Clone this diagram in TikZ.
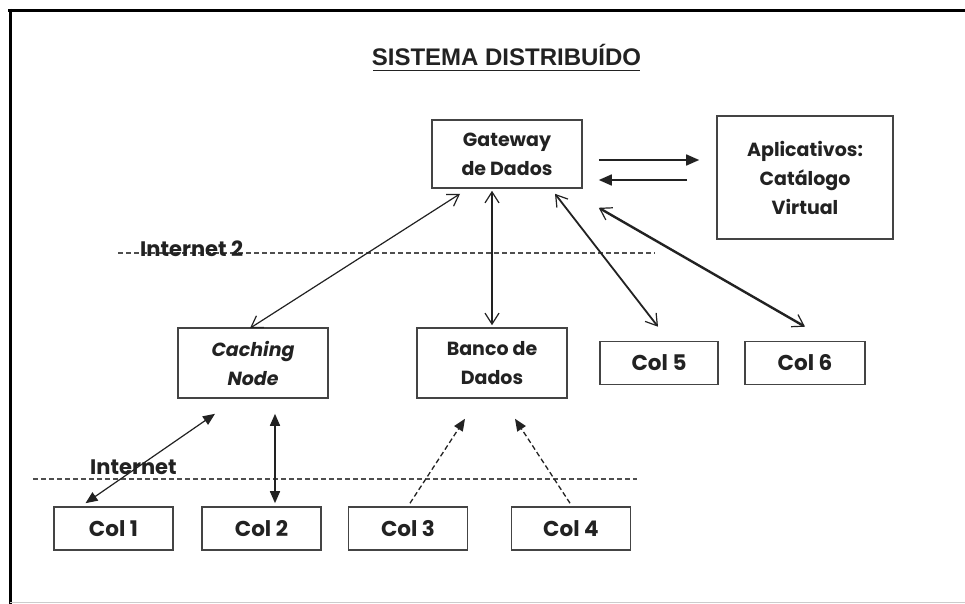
\documentclass[tikz,border=0pt]{standalone}
\usepackage{fontspec}
\setmainfont{Poppins}
\newfontfamily\titlefont{Liberation Sans}
\usetikzlibrary{arrows.meta,calc}
\definecolor{ink}{HTML}{222222}
\definecolor{boxline}{HTML}{444444}
\tikzset{
  box/.style={draw=boxline,line width=1.6pt,align=center,text=ink,font=\fontsize{19}{29}\selectfont\bfseries,inner sep=0pt},
  colbox/.style={box,minimum width=119pt,minimum height=43pt,font=\fontsize{21.5}{24}\selectfont\bfseries},
  bigbox/.style={box,minimum width=150pt,minimum height=69pt},
  openarr/.style={draw=ink,line width=1.2pt,{Straight Barb[length=11pt,width=14pt,line width=1.2pt]}-{Straight Barb[length=11pt,width=14pt,line width=1.2pt]}},
  fillarr/.style={draw=ink,line width=1.2pt,{Triangle[length=12pt,width=10pt]}-{Triangle[length=12pt,width=10pt]}},
  onefill/.style={draw=ink,line width=1.6pt,-{Triangle[length=13pt,width=11pt]}},
  dasharr/.style={draw=ink,line width=1.3pt,dash pattern=on 5pt off 3pt,-{Triangle[length=12pt,width=10pt]}},
  netline/.style={draw=ink!80,line width=1.4pt,dash pattern=on 5pt off 3pt},
  netlabel/.style={anchor=base west,inner sep=0pt,text=ink,font=\fontsize{21}{22}\selectfont\bfseries}
}
\begin{document}
\begin{tikzpicture}[x=1pt,y=-1pt]
\useasboundingbox (0,0) rectangle (965,604);
\fill[white] (0,0) rectangle (965,604);
% frame
\draw[line width=3pt] (8,10.5) -- (965,10.5);
\draw[line width=3pt] (10.5,9) -- (10.5,604);
\draw[gray!40,line width=1pt] (10,602) -- (965,602);
% title
\node[inner sep=0pt,anchor=base,text=ink] (title) at (506.5,66) {\titlefont\bfseries\fontsize{24}{26}\selectfont\scalebox{1.0}[1]{SISTEMA DISTRIBUÍDO}};
\draw[ink,line width=1.5pt] (373,70.5) -- (640,70.5);
% nodes
\node[bigbox,minimum height=68pt] (gw) at (507,154) {Gateway\\de Dados};
\node[box,minimum width=176pt,minimum height=123pt] (ap) at (805,177.5) {Aplicativos:\\Catálogo\\Virtual};
\node[bigbox,minimum height=70pt] (cn) at (253,363) {\itshape Caching\\\itshape Node};
\node[bigbox,minimum height=70pt] (bd) at (492,363) {Banco de\\Dados};
\node[colbox,minimum width=118pt] (c5) at (659,363) {Col 5};
\node[colbox,minimum width=120pt] (c6) at (805,363) {Col 6};
\node[colbox] (c1) at (113.5,528.5) {Col 1};
\node[colbox] (c2) at (261.5,528.5) {Col 2};
\node[colbox] (c3) at (408,528.5) {Col 3};
\node[colbox] (c4) at (571,528.5) {Col 4};
% network lines
\draw[netline] (118,253) coordinate (i2a) -- (655,253) coordinate (i2b);
\node[netlabel] (i2) at (140,256) {Internet 2};
\draw[netline] (33,479) coordinate (ia) -- (637,479) coordinate (ib);
\node[netlabel] (inet) at (90,474) {Internet};
% connectors
\draw[openarr] ([xshift=-47pt,yshift=-5pt]gw.south) -- ([xshift=-3pt,yshift=-1pt]cn.north);
\draw[openarr] ([xshift=-15pt,yshift=-2pt]gw.south) -- ([yshift=2pt]bd.north);
\draw[openarr,line width=1.8pt] ([xshift=48pt,yshift=-5pt]gw.south) -- ([xshift=-1pt,yshift=14pt]c5.north);
\draw[openarr,line width=2.4pt] ([xshift=16pt,yshift=-19pt]gw.south east) -- ([yshift=14pt]c6.north);
\draw[onefill] ([xshift=16pt,yshift=-6pt]gw.east) -- ([xshift=-17pt,yshift=17.5pt]ap.west);
\draw[onefill] ([xshift=-29pt,yshift=-2.5pt]ap.west) -- ([xshift=16pt,yshift=-26pt]gw.east);
\draw[fillarr] ([xshift=-38pt,yshift=-15pt]cn.south) -- ([xshift=-28pt,yshift=3pt]c1.north);
\draw[fillarr,line width=1.6pt] ([xshift=22pt,yshift=-15pt]cn.south) -- ([xshift=13.5pt,yshift=3pt]c2.north);
\draw[dasharr] ([xshift=2pt,yshift=3pt]c3.north) -- ([xshift=-27pt,yshift=-20pt]bd.south);
\draw[dasharr] ([xshift=-1pt,yshift=3pt]c4.north) -- ([xshift=23pt,yshift=-20pt]bd.south);
\end{tikzpicture}
\end{document}
